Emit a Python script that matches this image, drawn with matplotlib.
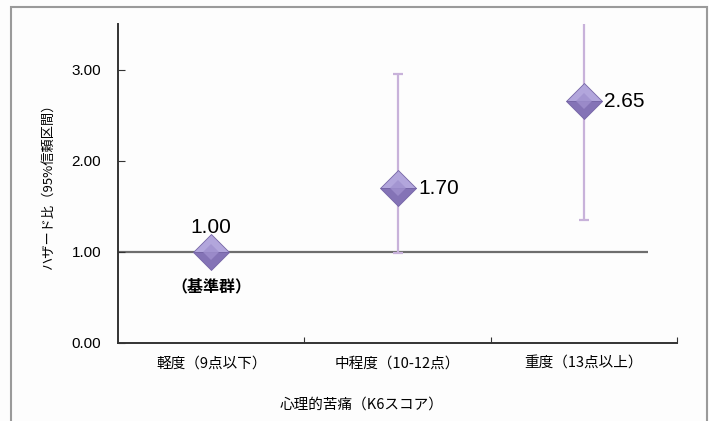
import matplotlib
matplotlib.use("Agg")
import matplotlib.pyplot as plt
from matplotlib import font_manager
from matplotlib.patches import Rectangle

# data
categories = ["軽度（9点以下）", "中程度（10-12点）", "重度（13点以上）"]
hr = [1.00, 1.70, 2.65]
ci_low = [1.00, 0.99, 1.35]
ci_high = [1.00, 2.95, 5.20]
hr_labels = ["1.00", "1.70", "2.65"]
yticks = [0.0, 1.0, 2.0, 3.0]

jp = "Noto Sans CJK JP"
names = {f.name for f in font_manager.fontManager.ttflist}
num_font = ["Liberation Sans Narrow", jp] if "Liberation Sans Narrow" in names else ["Liberation Sans", jp]
plt.rcParams["font.family"] = [jp, "DejaVu Sans"]

fig = plt.figure(figsize=(7.09, 4.21), dpi=100)
fig.patch.set_facecolor("#fdfdfd")
# outer gray frame (bottom edge runs off the picture)
fig.patches.append(Rectangle((11 / 709, -0.05), 696 / 709, 1.05 - 7 / 421,
                             transform=fig.transFigure, fill=False,
                             ec="#9a9a9a", lw=1.5))

ax = fig.add_axes([118 / 709, 78 / 421, 559 / 709, 319 / 421])
ax.set_facecolor("#fdfdfd")
x = list(range(len(categories)))

ax.hlines(1.0, -0.5, 2.345, color="#6e6e6e", lw=1.6, zorder=1)

lo = [h - l for h, l in zip(hr, ci_low)]
hi = [u - h for h, u in zip(hr, ci_high)]
ax.errorbar(x[1:], hr[1:], yerr=[lo[1:], hi[1:]], fmt="none",
            ecolor="#c8b2da", elinewidth=1.6, capsize=3.8, capthick=1.6, zorder=2)

# diamonds: lighter upper half, darker lower half for a bevel look
ax.plot(x, hr, ls="none", marker="D", ms=18.5, fillstyle="top",
        markerfacecolor="#b2a6dc", markerfacecoloralt="#8473b6",
        markeredgecolor="#7565a6", markeredgewidth=0.6, zorder=3)
ax.plot(x, hr, ls="none", marker="D", ms=8, color="#a091cf",
        markeredgewidth=0, alpha=0.8, zorder=4)

ax.text(x[0], hr[0] + 0.16, hr_labels[0], ha="center", va="bottom",
        fontsize=15, family=num_font)
ax.text(x[0], hr[0] - 0.29, "（基準群）", ha="center", va="top",
        fontsize=11.5, fontweight="bold")
for i in (1, 2):
    ax.text(x[i] + 0.11, hr[i], hr_labels[i], ha="left", va="center",
            fontsize=15, family=num_font)

ax.set_xlim(-0.5, 2.5)
ax.set_ylim(0, 3.5)
ax.set_yticks(yticks)
ax.set_yticklabels([f"{v:.2f}" for v in yticks], fontsize=11, family=num_font)
ax.set_xticks([0.5, 1.5, 2.5])
ax.set_xticklabels([])
ax.set_xticks(x, minor=True)
ax.set_xticklabels(categories, minor=True, fontsize=10.5)
ax.tick_params(axis="x", which="major", direction="in", length=4, color="#333333")
ax.tick_params(axis="x", which="minor", length=0, pad=10)
ax.tick_params(axis="y", direction="in", length=5, color="#333333", pad=12)

for s in ("top", "right"):
    ax.spines[s].set_visible(False)
for s in ("left", "bottom"):
    ax.spines[s].set_color("#333333")
    ax.spines[s].set_linewidth(1.4)

ax.set_ylabel("ハザード比（95%信頼区間）", fontsize=9.5, labelpad=12)
fig.text(362 / 709, 1 - 405 / 421, "心理的苦痛（K6スコア）", ha="center",
         va="center", fontsize=10.5)

fig.savefig("out.png", dpi=100, facecolor=fig.get_facecolor())
